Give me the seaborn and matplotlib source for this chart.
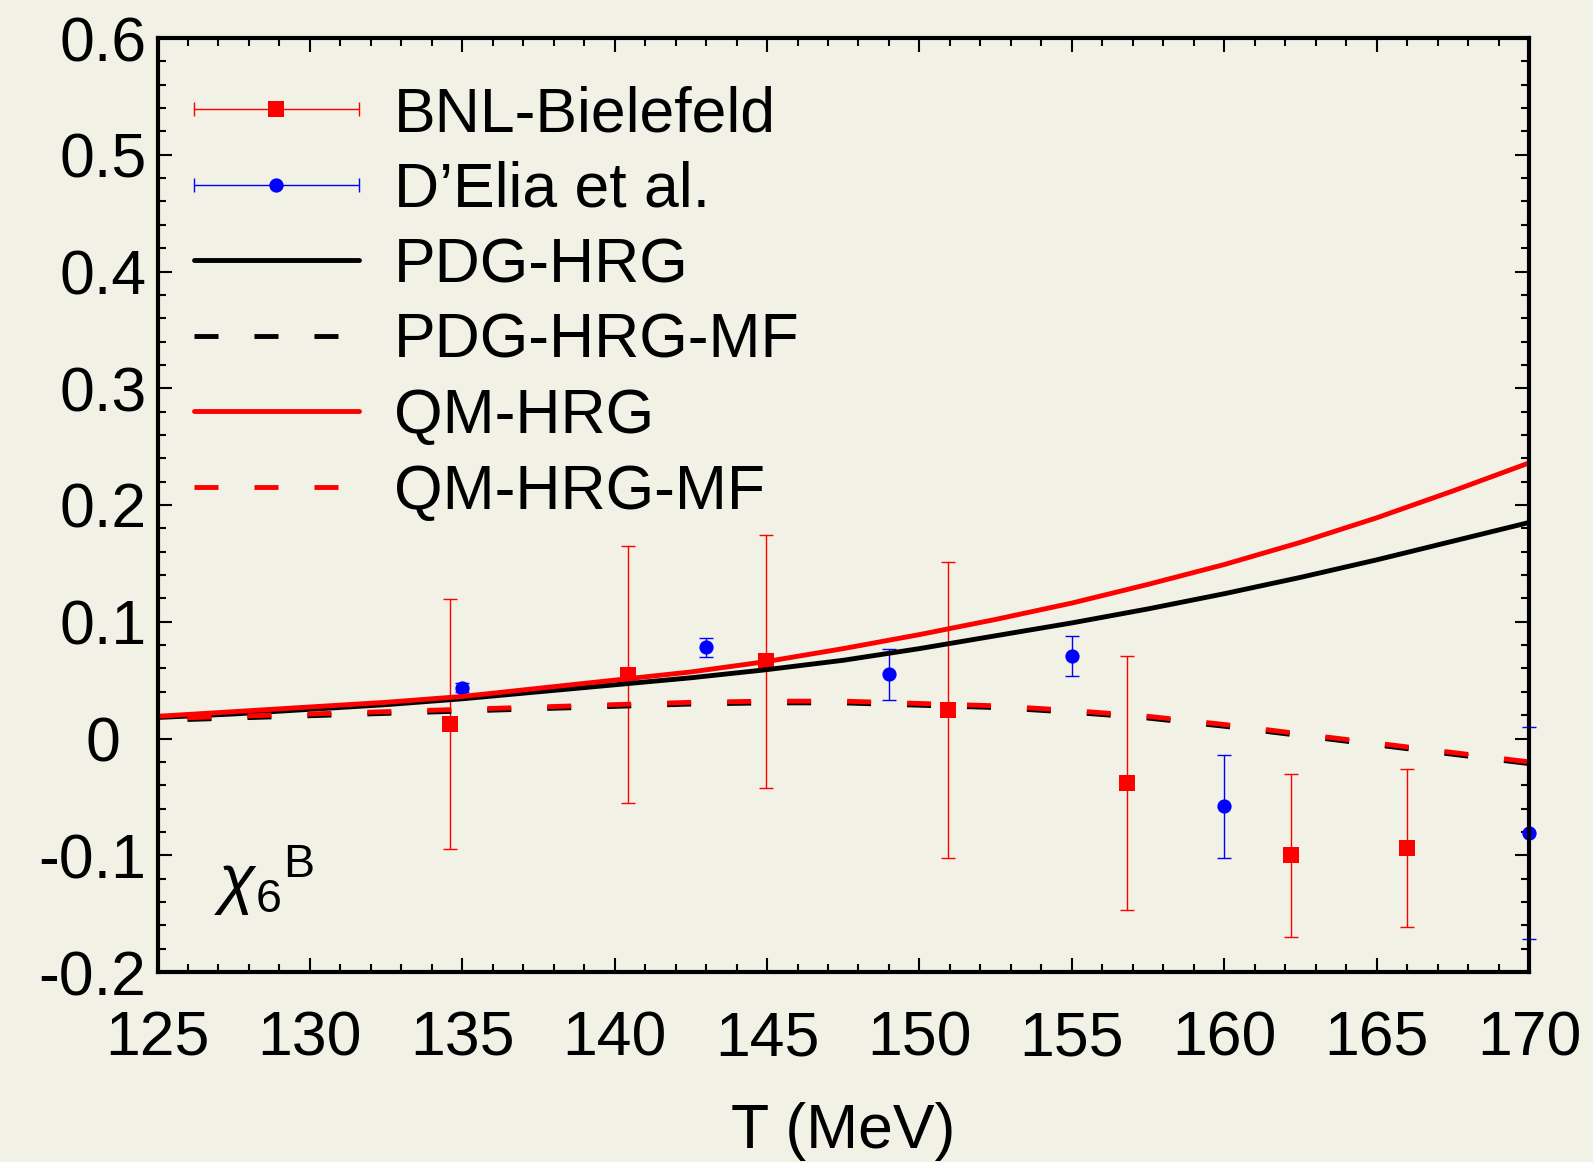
import numpy as np
import pandas as pd
import matplotlib
matplotlib.use("Agg")
import matplotlib.pyplot as plt
import seaborn as sns
from matplotlib.legend_handler import HandlerBase
from matplotlib.lines import Line2D
from matplotlib.ticker import FixedLocator, MultipleLocator
from matplotlib.transforms import ScaledTranslation

# ---------------- data ----------------
T_curve = [125, 127.5, 130, 132.5, 135, 137.5, 140, 142.5, 145, 147.5,
           150, 152.5, 155, 157.5, 160, 162.5, 165, 167.5, 170]
pdg_hrg = [0.018, 0.021, 0.025, 0.029, 0.034, 0.040, 0.046, 0.052, 0.059, 0.067,
           0.077, 0.088, 0.099, 0.111, 0.124, 0.138, 0.153, 0.169, 0.185]
qm_hrg = [0.019, 0.023, 0.027, 0.031, 0.036, 0.043, 0.050, 0.057, 0.066, 0.077,
          0.089, 0.102, 0.116, 0.132, 0.149, 0.168, 0.189, 0.212, 0.236]
qm_hrg_mf = [0.017, 0.019, 0.021, 0.023, 0.025, 0.027, 0.029, 0.031, 0.032, 0.032,
             0.030, 0.028, 0.024, 0.019, 0.012, 0.004, -0.004, -0.012, -0.020]
pdg_hrg_mf = [0.0155, 0.0175, 0.0195, 0.0215, 0.0235, 0.0255, 0.0275, 0.0295, 0.0305, 0.0305,
              0.0285, 0.0265, 0.0225, 0.0175, 0.0105, 0.0025, -0.0055, -0.0135, -0.0215]

bnl_T = [134.6, 140.45, 144.95, 150.95, 156.8, 162.2, 166.0]
bnl_val = [0.0125, 0.0545, 0.066, 0.0245, -0.038, -0.100, -0.094]
bnl_err = [0.107, 0.110, 0.108, 0.1265, 0.109, 0.070, 0.0675]

delia_T = [135, 143, 149, 155, 160, 170]
delia_val = [0.0435, 0.078, 0.055, 0.0705, -0.058, -0.081]
delia_err = [0.004, 0.008, 0.022, 0.017, 0.044, 0.091]

x_ticks = [125, 130, 135, 140, 145, 150, 155, 160, 165, 170]
x_tick_labels = ["125", "130", "135", "140", "145", "150", "155", "160", "165", "170"]
y_ticks = [-0.2, -0.1, 0.0, 0.1, 0.2, 0.3, 0.4, 0.5, 0.6]
y_tick_labels = ["-0.2", "-0.1", "0", "0.1", "0.2", "0.3", "0.4", "0.5", "0.6"]

legend_labels = ["BNL-Bielefeld", "D\u2019Elia et al.", "PDG-HRG", "PDG-HRG-MF",
                 "QM-HRG", "QM-HRG-MF"]
x_label = "T (MeV)"
panel_label = r"$\chi_{6}{}^{\mathrm{B}}$"

# ---------------- style ----------------
sns.set_theme(style="ticks")
plt.rcParams["font.family"] = ["Liberation Sans", "DejaVu Sans"]
plt.rcParams["mathtext.fontset"] = "custom"
plt.rcParams["mathtext.rm"] = "Liberation Sans"
plt.rcParams["mathtext.it"] = "Liberation Sans:italic"
plt.rcParams["mathtext.bf"] = "Liberation Sans:bold"
for k in ["text.color", "axes.labelcolor", "xtick.color", "ytick.color", "axes.edgecolor"]:
    plt.rcParams[k] = "black"
bg = "#f2f1e6"
FS = 45

W, H = 1593, 1162
fig = plt.figure(figsize=(W / 100, H / 100), dpi=100, facecolor=bg)
L, R, TOP, BOT = 157.5, 1529, 38, 972
ax = fig.add_axes([L / W, 1 - BOT / H, (R - L) / W, (BOT - TOP) / H])
ax.set_facecolor(bg)

# ---------------- data points ----------------
ax.errorbar(bnl_T, bnl_val, yerr=bnl_err, fmt="none", ecolor="#ff0000",
            elinewidth=1.0, capsize=5.3, capthick=1.0, zorder=2, clip_on=False)
ax.errorbar(delia_T, delia_val, yerr=delia_err, fmt="none", ecolor="#0000ff",
            elinewidth=1.0, capsize=5.3, capthick=1.0, zorder=2, clip_on=False)
sns.scatterplot(x=bnl_T, y=bnl_val, marker="s", s=128, color="#ff0000",
                linewidth=0, ax=ax, zorder=2.2, clip_on=False)
sns.scatterplot(x=delia_T, y=delia_val, marker="o", s=105, color="#0000ff",
                linewidth=0, ax=ax, zorder=2.2, clip_on=False)

# ---------------- curves ----------------
LW = 3.5
dash = (4.94, 7.4)
sns.lineplot(x=T_curve, y=pdg_hrg, color="black", linewidth=LW, ax=ax, zorder=3)
sns.lineplot(x=T_curve, y=pdg_hrg_mf, color="black", linewidth=LW,
             linestyle=(6.17, dash), ax=ax, zorder=3)
sns.lineplot(x=T_curve, y=qm_hrg, color="#ff0000", linewidth=LW, ax=ax, zorder=3.1)
sns.lineplot(x=T_curve, y=qm_hrg_mf, color="#ff0000", linewidth=LW,
             linestyle=(6.17, dash), ax=ax, zorder=3.1)

# ---------------- axes ----------------
ax.set_xlim(125, 170)
ax.set_ylim(-0.2, 0.6)
ax.xaxis.set_major_locator(FixedLocator(x_ticks))
ax.set_xticklabels(x_tick_labels)
ax.yaxis.set_major_locator(FixedLocator(y_ticks))
ax.set_yticklabels(y_tick_labels)
ax.xaxis.set_minor_locator(MultipleLocator(1))
ax.yaxis.set_minor_locator(MultipleLocator(0.02))
ax.tick_params(which="both", direction="in", top=True, right=True,
               width=1.5, color="black")
ax.tick_params(which="major", length=10)
ax.tick_params(which="minor", length=5.8)
ax.tick_params(axis="x", which="major", labelsize=FS, pad=27, labelcolor="black")
ax.tick_params(axis="y", which="major", labelsize=FS, pad=8, labelcolor="black")
for s in ax.spines.values():
    s.set_linewidth(3.0)
    s.set_color("black")
    s.set_zorder(5)
ax.set_xlabel(x_label, fontsize=FS, labelpad=24, color="black")
ax.set_ylabel("")

# the "0" label sits further left in the reference
zero_lab = ax.get_yticklabels()[2]
zero_lab.set_transform(zero_lab.get_transform()
                       + ScaledTranslation(-0.26, 0, fig.dpi_scale_trans))

# chi_6^B label
fig.text(214 / W, 1 - 902 / H, panel_label, fontsize=48, va="baseline", ha="left")


# ---------------- legend ----------------
class HErrHandler(HandlerBase):
    def __init__(self, color, marker, msize):
        super().__init__()
        self.color = color
        self.marker = marker
        self.msize = msize

    def create_artists(self, legend, orig_handle, xdescent, ydescent,
                       width, height, fontsize, trans):
        y = height / 2 - ydescent
        x0 = -xdescent
        x1 = x0 + width
        bar = Line2D([x0, x1], [y, y], color=self.color, lw=1.0)
        caps = Line2D([x0, x1], [y, y], ls="none", marker="|", markersize=10,
                      markeredgewidth=1.0, color=self.color)
        mk = Line2D([(x0 + x1) / 2], [y], ls="none", marker=self.marker,
                    markersize=self.msize, markeredgewidth=0, color=self.color)
        for a in (bar, caps, mk):
            a.set_transform(trans)
        return [bar, caps, mk]


h_bnl = Line2D([], [])
h_delia = Line2D([], [])
h_pdg = Line2D([], [], color="black", lw=LW)
h_pdgmf = Line2D([], [], color="black", lw=LW, linestyle=(0, dash))
h_qm = Line2D([], [], color="#ff0000", lw=LW)
h_qmmf = Line2D([], [], color="#ff0000", lw=LW, linestyle=(0, dash))

leg = ax.legend([h_bnl, h_delia, h_pdg, h_pdgmf, h_qm, h_qmmf], legend_labels,
                handler_map={h_bnl: HErrHandler("#ff0000", "s", 11.3),
                             h_delia: HErrHandler("#0000ff", "o", 10.3)},
                loc="upper left",
                bbox_to_anchor=((193.7 - L) / (R - L), 1 - (85 - TOP) / (BOT - TOP)),
                borderpad=0, borderaxespad=0, frameon=False, fontsize=FS,
                handlelength=2.64, handletextpad=0.56, labelspacing=0.265)
for t in leg.get_texts():
    t.set_color("black")
leg.set_zorder(6)

fig.savefig("out.png", dpi=100, facecolor=bg)
